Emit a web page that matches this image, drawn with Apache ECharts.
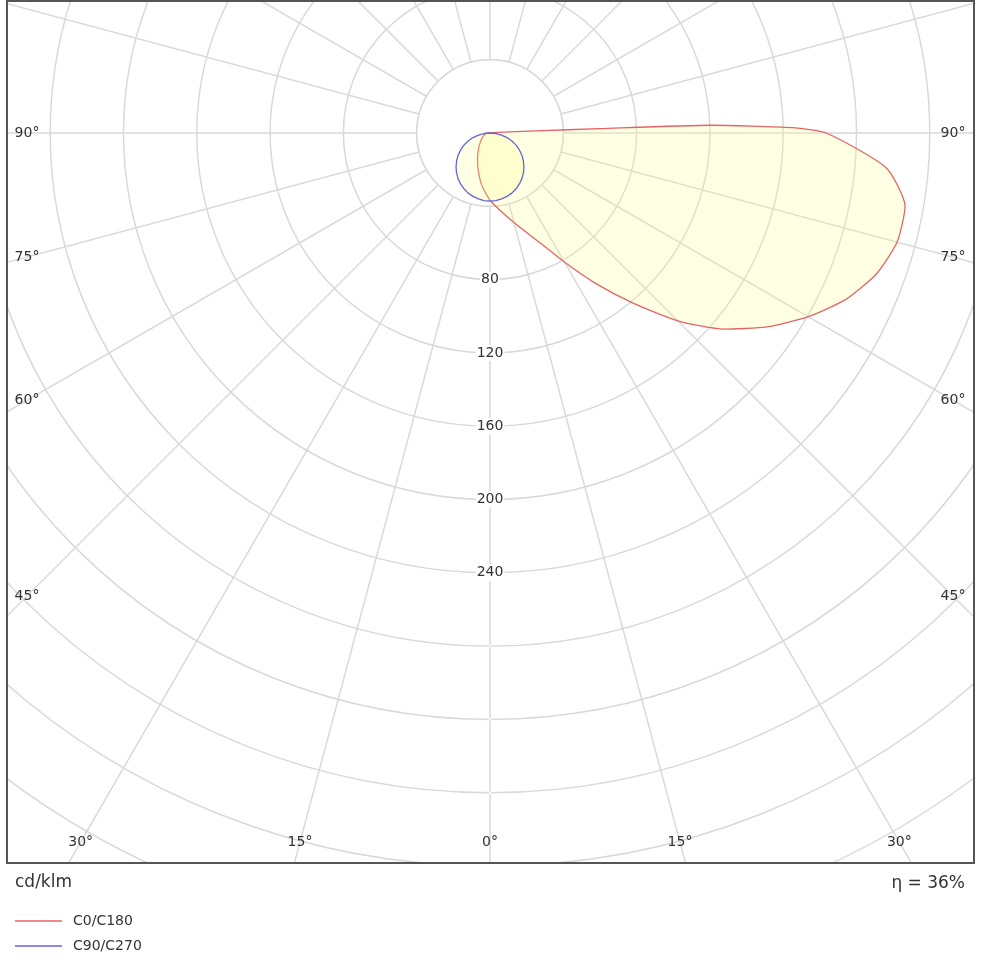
<!DOCTYPE html>
<html><head><meta charset="utf-8">
<script src="https://cdn.jsdelivr.net/npm/echarts@6/dist/echarts.min.js"></script>
<style>html,body{margin:0;padding:0;background:#fff}#c{width:1000px;height:964px}</style>
</head><body><div id="c"></div>
<script>
// ---- data (cd/klm vs gamma angle in degrees) ----
const ringLabels = [80, 120, 160, 200, 240];
const angleTickLabels = [0, 15, 30, 45, 60, 75, 90];
const unitLabel = 'cd/klm';
const efficiencyLabel = 'η = 36%';
const seriesNames = ['C0/C180', 'C90/C270'];

// C0 half-plane (drawn on the right)
const c0Gamma  = [0, 5, 10, 15, 20, 25, 30, 35, 40, 45, 50, 55, 60, 65, 70, 75, 80, 85, 90, 91, 92, 92.3, 92.6, 95, 100, 180];
const c0Values = [36.8, 40.5, 45, 50.5, 57.5, 67, 81.5, 100, 121, 145, 166.5, 184.5, 200.5, 214.5, 224.5, 230, 230, 217, 183.5, 165, 121, 60, 25, 4, 1, 0];
// C180 half-plane (drawn on the left)
const c180Gamma  = [0, 5, 10, 15, 20, 25, 30, 35, 40, 45, 50, 55, 60, 65, 70, 75, 80, 85, 90, 95, 180];
const c180Values = [36.8, 32.2, 27.9, 23.4, 19.6, 16.1, 13.4, 11.0, 9.3, 7.6, 6.5, 5.6, 4.8, 4.1, 3.5, 3.1, 2.7, 2.2, 1.5, 0, 0];
// C90 / C270 half-planes
const c90Gamma  = [0, 5, 10, 15, 20, 25, 30, 35, 40, 45, 50, 55, 60, 65, 70, 75, 80, 85, 90];
const c90Values = [37.1, 37.0, 36.5, 35.8, 34.9, 33.6, 32.1, 30.4, 28.4, 26.2, 23.8, 21.3, 18.5, 15.7, 12.7, 9.6, 6.4, 3.2, 0];
const c270Values = [37.1, 37.0, 36.5, 35.8, 34.9, 33.6, 32.1, 30.4, 28.4, 26.2, 23.8, 21.3, 18.5, 15.7, 12.7, 9.6, 6.4, 3.2, 0];

// ---- build polar data: right side angle = gamma, left side angle = 360 - gamma ----
function halfPlanes(gR, vR, gL, vL) {
  const out = gR.map((g, i) => [vR[i], g]);
  for (let i = gL.length - 1; i >= 0; i--) out.push([vL[i], 360 - gL[i]]);
  return out;
}
const redData = halfPlanes(c0Gamma, c0Values, c180Gamma, c180Values);
const blueData = halfPlanes(c90Gamma, c90Values, c90Gamma, c270Values);

const FONT = 'DejaVu Sans';
const TXT = '#333333';
const GRID = '#d9d9d9';
const PX_PER_UNIT = 73.3 / 40;
const R_INNER = 40, R_MAX = 480;
const fill = 'rgba(255,255,128,0.3)';

const chart = echarts.init(document.getElementById('c'), null, {renderer: 'canvas'});
const option = {
  animation: false,
  backgroundColor: '#ffffff',
  textStyle: {fontFamily: FONT},
  polar: {center: [490, 133], radius: [0, R_MAX * PX_PER_UNIT]},
  angleAxis: {
    type: 'value', min: 0, max: 360, interval: 15, startAngle: 270, clockwise: false, z: 0,
    axisLine: {show: false}, axisTick: {show: false}, axisLabel: {show: false},
    splitLine: {show: true, lineStyle: {color: GRID, width: 1.5}}
  },
  radiusAxis: {
    type: 'value', min: 0, max: R_MAX, interval: 40, z: 0,
    axisLine: {show: false}, axisTick: {show: false},
    axisLabel: {
      show: true, margin: 0, align: 'center', verticalAlign: 'middle',
      fontFamily: FONT, fontSize: 14, color: TXT, backgroundColor: '#ffffff', padding: [1, 1],
      formatter: v => (ringLabels.indexOf(v) >= 0 ? String(v) : '')
    },
    splitLine: {show: true, lineStyle: {color: GRID, width: 1.5}}
  },
  legend: {
    orient: 'vertical', left: 15, top: 914, padding: 0, itemWidth: 47, itemHeight: 1.5, itemGap: 11, z: 40,
    icon: 'rect', textStyle: {fontFamily: FONT, fontSize: 14, color: TXT, padding: [0, 0, 0, 6]},
    data: seriesNames
  },
  series: [
    {name: seriesNames[0], type: 'line', coordinateSystem: 'polar', data: redData,
     showSymbol: false, symbol: 'none', color: '#e46464', z: 3, smooth: 0.2,
     lineStyle: {color: '#e46464', width: 1.3}, areaStyle: {color: fill, origin: 0}},
    {name: seriesNames[1], type: 'line', coordinateSystem: 'polar', data: blueData,
     showSymbol: false, symbol: 'none', color: '#6565d8', z: 4,
     lineStyle: {color: '#6565d8', width: 1.3}, areaStyle: {color: fill, origin: 0}}
  ]
};
chart.setOption(option);

// ---- frame, masks, inner hub and angle labels ----
const BOX = {x: 7, y: 1, w: 967, h: 862};
const INSET = {left: 27, right: 953, bottom: 842};
const ctr = chart.convertToPixel({seriesIndex: 0}, [0, 0]);
const innerPt = chart.convertToPixel({seriesIndex: 0}, [R_INNER, 0]);
const innerR = Math.hypot(innerPt[0] - ctr[0], innerPt[1] - ctr[1]);
const g = [];
// white hub: radial grid lines start at the first ring
g.push({type: 'circle', z: 1, shape: {cx: ctr[0], cy: ctr[1], r: innerR},
        style: {fill: '#fff', stroke: GRID, lineWidth: 1.5}});
// white masks outside the frame
g.push({type: 'rect', z: 20, shape: {x: 0, y: BOX.y + BOX.h, width: 1000, height: 200}, style: {fill: '#fff'}});
g.push({type: 'rect', z: 20, shape: {x: 0, y: 0, width: BOX.x, height: 964}, style: {fill: '#fff'}});
g.push({type: 'rect', z: 20, shape: {x: BOX.x + BOX.w, y: 0, width: 40, height: 964}, style: {fill: '#fff'}});
g.push({type: 'rect', z: 20, shape: {x: 0, y: 0, width: 1000, height: BOX.y}, style: {fill: '#fff'}});
g.push({type: 'rect', z: 21, shape: {x: BOX.x, y: BOX.y, width: BOX.w, height: BOX.h},
        style: {fill: 'none', stroke: '#555555', lineWidth: 2}});
function txt(x, y, s, size, align) {
  return {type: 'text', z: 22, x: x, y: y,
          style: {text: s, fontFamily: FONT, fontSize: size, fill: TXT,
                  align: align, textAlign: align, verticalAlign: 'middle', textVerticalAlign: 'middle'}};
}
angleTickLabels.forEach(a => {
  const angs = a === 0 ? [0] : [a, 360 - a];
  angs.forEach(ang => {
    const p = chart.convertToPixel({seriesIndex: 0}, [100, ang]);
    const dx = p[0] - ctr[0], dy = p[1] - ctr[1];
    let t = Infinity;
    if (dx > 1e-6) t = Math.min(t, (INSET.right - ctr[0]) / dx);
    if (dx < -1e-6) t = Math.min(t, (INSET.left - ctr[0]) / dx);
    if (dy > 1e-6) t = Math.min(t, (INSET.bottom - ctr[1]) / dy);
    g.push(txt(ctr[0] + dx * t, ctr[1] + dy * t, a + '°', 14, 'center'));
  });
});
g.push(txt(15, 883, unitLabel, 17, 'left'));
g.push(txt(965, 884, efficiencyLabel, 17, 'right'));
chart.setOption({graphic: {elements: g}});
</script>
</body></html>
